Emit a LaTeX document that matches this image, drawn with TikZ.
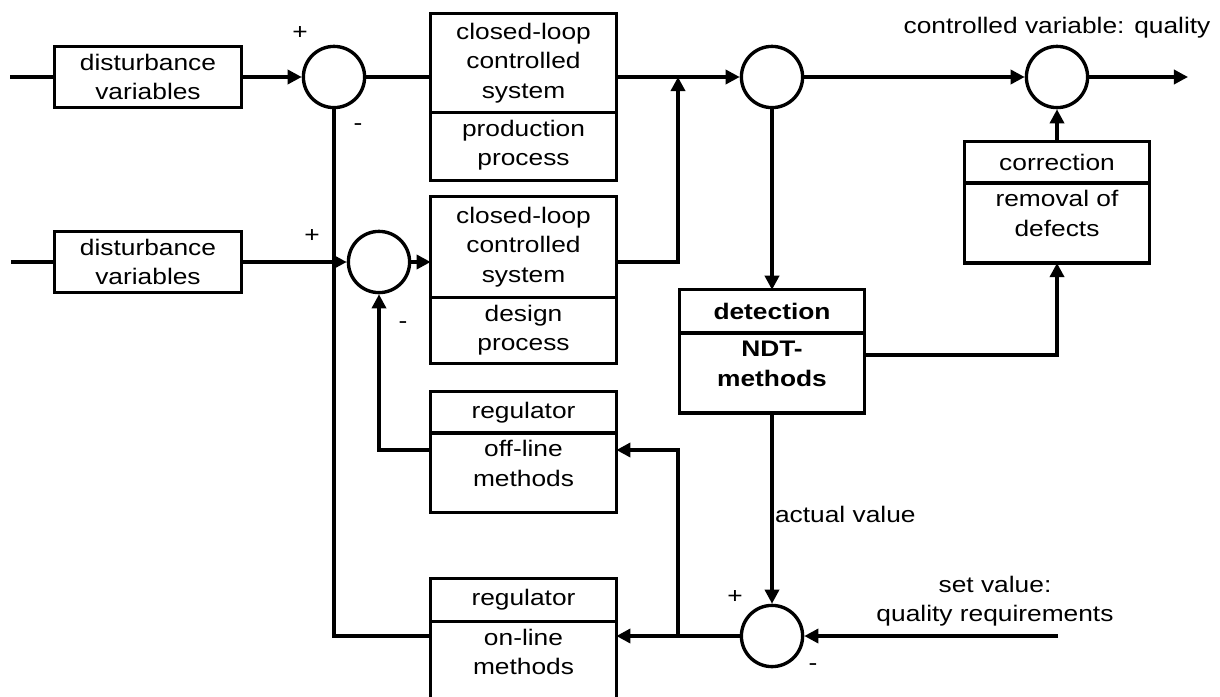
\documentclass[tikz,border=0pt]{standalone}
\usepackage{fontspec}
\setmainfont[FakeStretch=1.17]{Liberation Sans}
\usetikzlibrary{positioning,arrows.meta}
\tikzset{
  node-block/.style={draw,line width=2.4pt,minimum width=4.64cm,inner sep=0pt,
    outer sep=0pt,align=center},
  node-dist/.style={node-block,minimum width=4.665cm,minimum height=1.53cm},
  node-sum/.style={draw,circle,line width=2.4pt,minimum size=1.53cm,inner sep=0pt},
  node-sign/.style={inner sep=0pt},
  line-plain/.style={line width=2.4pt},
  arrow/.style={line width=2.4pt,-{Triangle[length=10pt,width=10pt]}},
}
% lower half of a split block: text hangs from the top edge
\newcommand\lowtext[2]{\parbox[t][#1][t]{4.5cm}{\centering\rule{0pt}{17pt}#2}}

\begin{document}
\begin{tikzpicture}[x=0.025cm,y=-0.025cm,every node/.append style={font=\fontsize{16}{21}\selectfont}]
  \useasboundingbox (0,0) rectangle (1220,696);
  % upper loop: production
  \node[node-dist] (dist1) at (148,77) {disturbance\\variables};
  \node[node-sum] (s1) at (334,77) {};
  \node[node-block,minimum height=2.46cm] (prod-top) at (523.5,63) {closed-loop\\controlled\\system};
  \node[node-block,below=0pt of prod-top] (prod-low) {\lowtext{1.71cm}{production\\process}};
  % second loop: design
  \node[node-dist] (dist2) at (148,262) {disturbance\\variables};
  \node[node-sum] (s2) at (379,262) {};
  \node[node-block,minimum height=2.51cm] (des-top) at (523.5,247) {closed-loop\\controlled\\system};
  \node[node-block,below=0pt of des-top] (des-low) {\lowtext{1.66cm}{design\\process}};
  % regulators
  \node[node-block,minimum height=1.03cm] (off-top) at (523.5,412.4) {regulator};
  \node[node-block,below=0pt of off-top] (off-low) {\lowtext{1.98cm}{off-line\\methods}};
  \node[node-block,minimum height=1.06cm] (onl-top) at (523.5,600) {regulator};
  \node[node-block,below=0pt of onl-top] (onl-low) {\lowtext{2.1cm}{on-line\\methods}};
  % detection and correction
  \node[node-sum] (s3) at (772,77) {};
  \node[node-sum] (s4) at (1057,77) {};
  \node[node-sum] (s5) at (772,636) {};
  \node[node-block,minimum width=4.62cm,minimum height=1.08cm] (det-top) at (772,311.4) {\textbf{detection}};
  \node[node-block,minimum width=4.62cm,below=0pt of det-top] (det-low) {\lowtext{2cm}{\bfseries NDT-\\methods}};
  \node[node-block,minimum width=4.62cm,minimum height=1.03cm] (corr-top) at (1057,162.4) {correction};
  \node[node-block,minimum width=4.62cm,below=0pt of corr-top] (corr-low) {\lowtext{2cm}{removal of\\defects}};
  % texts
  \node (q-lbl) at (1057,28) {controlled variable: quality};
  \node[align=center] (set-lbl) at (995,601) {set value:\\quality requirements};
  \node[node-sign] (p1) at (300,33) {+};
  \node[node-sign] (m1) at (358,127) {-};
  \node[node-sign] (p2) at (312,236) {+};
  \node[node-sign] (m2) at (403,325) {-};
  \node[node-sign] (p5) at (735,597) {+};
  \node[node-sign] (m5) at (813,667) {-};
  \coordinate (in1) at (10,77);
  \coordinate (in2) at (11,262);
  \coordinate (j1) at (678,77);
  \coordinate (out) at (1188,77);
  \coordinate (set) at (1058,636);
  % connectors
  \draw[line-plain] (in1) -- (dist1.west);
  \draw[arrow] (dist1.east) -- (s1.west);
  \draw[line-plain] (s1.east) -- (s1.east -| prod-top.west);
  \draw[arrow] (s3.west -| prod-top.east) -- (s3.west);
  \draw[line-plain] (in2) -- (dist2.west);
  \draw[arrow] (dist2.east) -- (s2.west);
  \draw[arrow] (s2.east) -- (s2.east -| des-top.west);
  \draw[arrow] (s2.east -| des-top.east) -| (j1);
  \draw[line-plain] (s1.south) |- (s5 -| onl-low.west);
  \draw[arrow] (off-low.west |- 0,450) -| (s2.south);
  \draw[arrow] (s5.west) -- (s5 -| onl-low.east);
  \draw[arrow] (s5 -| j1) |- (off-low.east |- 0,450);
  \draw[arrow] (s3.south) -- (det-top.north);
  \draw[arrow] (s3.east) -- (s4.west);
  \draw[arrow] (s4.east) -- (out);
  \draw[arrow] (corr-top.north) -- (s4.south);
  \draw[arrow] (det-low.east |- 0,355) -| (corr-low.south);
  \draw[arrow] (det-low.south) -- node[right,pos=0.53,inner sep=1pt]{actual value} (s5.north);
  \draw[arrow] (set) -- (s5.east);
\end{tikzpicture}
\end{document}
